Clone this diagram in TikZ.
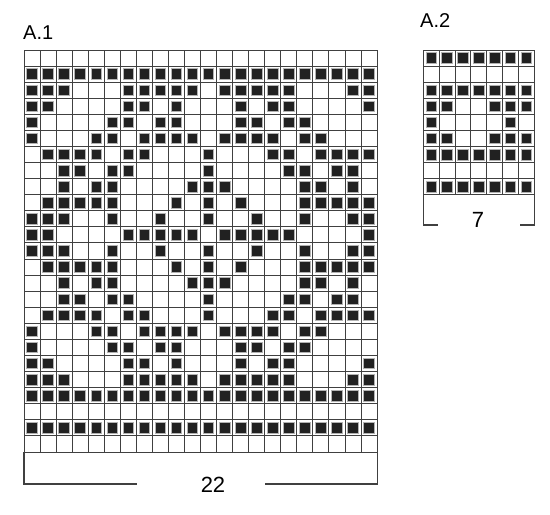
\documentclass[tikz,border=0pt]{standalone}
\usepackage{fontspec}
\setmainfont{Liberation Sans}
\begin{document}
\begin{tikzpicture}[x=1pt,y=-1pt,
  gridline/.style={draw=black!75, line width=1pt},
  frameline/.style={draw=black!75, line width=1.1pt},
  stitch/.style={fill=black!87, draw=black!30, line width=0.8pt},
  lbl/.style={inner sep=0pt, anchor=base west, font=\fontsize{20}{24}\selectfont},
  num/.style={inner sep=0pt, font=\fontsize{22}{26}\selectfont}]
\useasboundingbox (0,0) rectangle (550,515);
% ---------- A.1 ----------
\def\ax{24}\def\ay{50}\def\cw{16.05}\def\ch{16.08}
\foreach \r/\cl in {
  1/{1,...,22},
  2/{1,2,3,7,8,9,10,11,13,14,15,16,17,21,22},
  3/{1,2,7,8,10,14,16,17,22},
  4/{1,6,7,9,10,14,15,17,18},
  5/{1,5,6,8,9,10,11,13,14,15,16,18,19},
  6/{2,3,4,5,7,8,12,16,17,19,20,21,22},
  7/{3,4,6,7,12,17,18,20,21},
  8/{3,5,6,11,12,13,18,19,21},
  9/{2,3,4,5,6,10,12,14,18,19,20,21,22},
  10/{1,2,3,6,9,12,15,18,21,22},
  11/{1,2,7,8,9,10,11,13,14,15,16,17,22},
  12/{1,2,3,6,9,12,15,18,21,22},
  13/{2,3,4,5,6,10,12,14,18,19,20,21,22},
  14/{3,5,6,11,12,13,18,19,21},
  15/{3,4,6,7,12,17,18,20,21},
  16/{2,3,4,5,7,8,12,16,17,19,20,21,22},
  17/{1,5,6,8,9,10,11,13,14,15,16,18,19},
  18/{1,6,7,9,10,14,15,17,18},
  19/{1,2,7,8,10,14,16,17,22},
  20/{1,2,3,7,8,9,10,11,13,14,15,16,17,21,22},
  21/{1,...,22},
  23/{1,...,22}}{
  \foreach \c in \cl {
    \path[stitch] ({\ax+(\c-0.5)*\cw-5.3},{\ay+(\r+0.5)*\ch-5.3}) rectangle ++(10.6,10.6);
  }
}
\foreach \i in {0,...,22}
  \draw[gridline] ({\ax+\i*\cw},\ay) -- ({\ax+\i*\cw},{\ay+25*\ch});
\foreach \j in {0,...,25}
  \draw[gridline] (\ax,{\ay+\j*\ch}) -- ({\ax+22*\cw},{\ay+\j*\ch});
\node[lbl] (labA) at (23,39) {A.1};
\coordinate (a1bl) at (\ax,{\ay+25*\ch});
\coordinate (a1br) at ({\ax+22*\cw},{\ay+25*\ch});
\coordinate (a1l) at (\ax,484);
\coordinate (a1r) at ({\ax+22*\cw},484);
\node[num] (n22) at (213,485) {22};
\draw[frameline] (a1bl) -- (a1l) -- (136.5,484);
\draw[frameline] (265,484) -- (a1r) -- (a1br);
% ---------- A.2 ----------
\def\bx{423.3}\def\by{50}\def\dw{15.85}\def\dh{16.1}
\foreach \r/\cl in {
  0/{1,...,7},
  2/{1,...,7},
  3/{1,2,5,6,7},
  4/{1,6},
  5/{1,2,5,6,7},
  6/{1,...,7},
  8/{1,...,7}}{
  \foreach \c in \cl {
    \path[stitch] ({\bx+(\c-0.5)*\dw-5.3},{\by+(\r+0.5)*\dh-5.3}) rectangle ++(10.6,10.6);
  }
}
\foreach \i in {0,...,7}
  \draw[gridline] ({\bx+\i*\dw},\by) -- ({\bx+\i*\dw},{\by+9*\dh});
\foreach \j in {0,...,9}
  \draw[gridline] (\bx,{\by+\j*\dh}) -- ({\bx+7*\dw},{\by+\j*\dh});
\node[lbl] (labB) at (420,27) {A.2};
\coordinate (a2bl) at (\bx,{\by+9*\dh});
\coordinate (a2br) at ({\bx+7*\dw},{\by+9*\dh});
\coordinate (a2l) at (\bx,225);
\coordinate (a2r) at ({\bx+7*\dw},225);
\node[num] (n7) at (478,220) {7};
\draw[frameline] (a2bl) -- (a2l) -- (438,225);
\draw[frameline] (520,225) -- (a2r) -- (a2br);
\end{tikzpicture}
\end{document}
